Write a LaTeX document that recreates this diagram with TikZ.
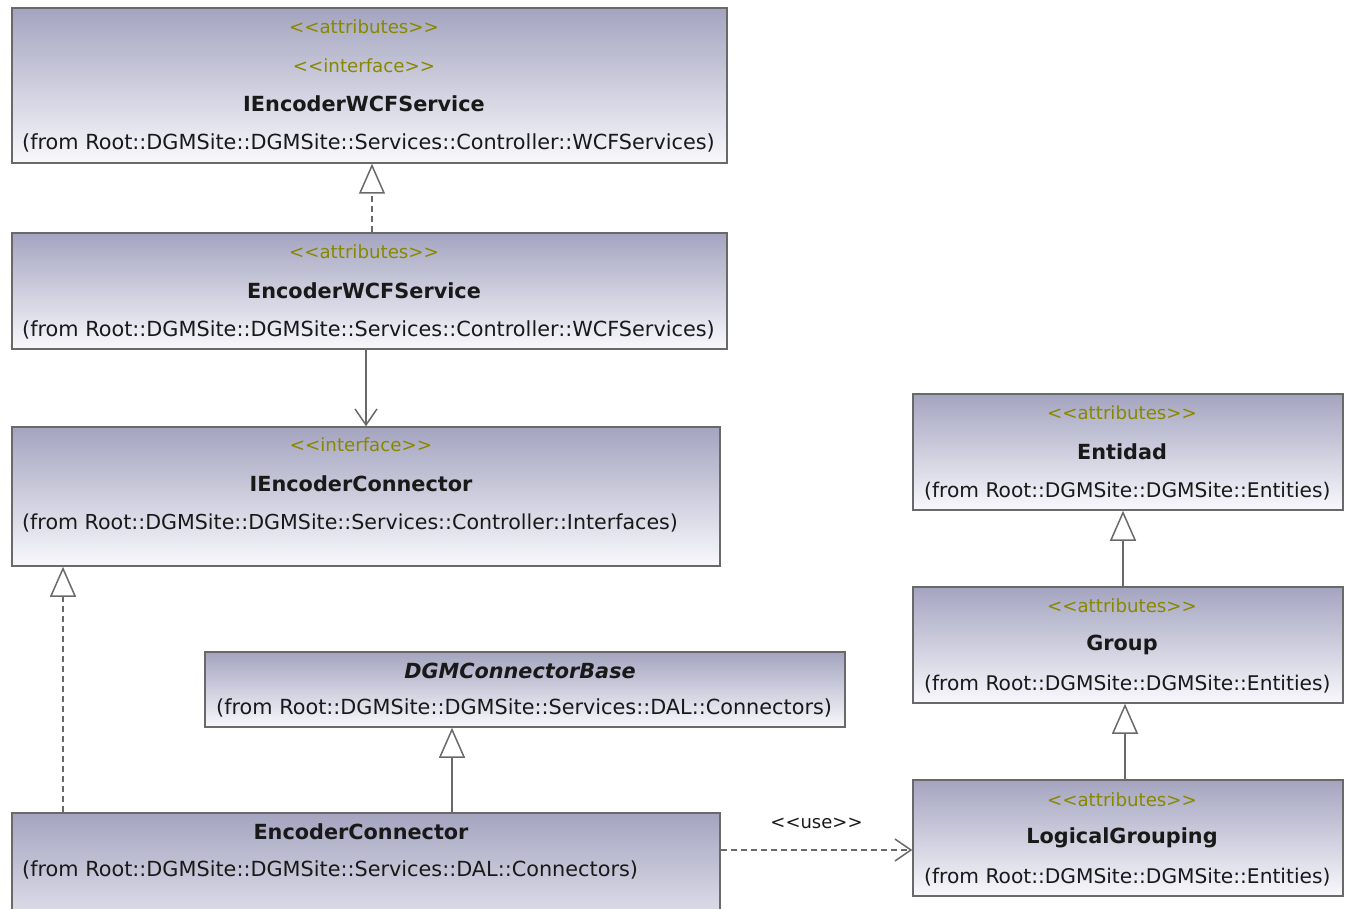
\documentclass[tikz,border=0pt]{standalone}
\usepackage{fontspec}
\setmainfont{DejaVu Sans}
\usetikzlibrary{arrows.meta}
\definecolor{boxtop}{RGB}{164,164,192}
\definecolor{boxbot}{RGB}{248,248,252}
\definecolor{edgec}{RGB}{105,105,105}
\definecolor{stereoc}{RGB}{136,136,0}
\definecolor{txtc}{RGB}{25,25,25}
\newcommand{\stOpen}{<{}<}
\newcommand{\stClose}{>{}>}
\tikzset{
 umlbox/.style={draw=edgec, line width=1.5pt, top color=boxtop, bottom color=boxbot, rectangle, inner sep=0pt},
 stereotxt/.style={text=stereoc, font=\fontsize{18.2}{20}\selectfont, inner sep=0pt},
 nametxt/.style={text=txtc, font=\fontsize{20.8}{22}\selectfont\bfseries, inner sep=0pt},
 fromtxt/.style={text=txtc, font=\fontsize{20.8}{22}\selectfont, inner sep=0pt, anchor=west},
 fromsm/.style={fromtxt, font=\fontsize{20.2}{22}\selectfont},
 gen/.style={draw=edgec, line width=1.5pt, -{Triangle[open, length=30pt, width=26pt]}},
 real/.style={gen, dash pattern=on 6pt off 4pt},
 assoc/.style={draw=edgec, line width=1.5pt, -{Straight Barb[length=16pt, width=22pt]}},
 dep/.style={assoc, dash pattern=on 6pt off 4pt}
}
\begin{document}
\begin{tikzpicture}[x=1pt, y=-1pt]
\useasboundingbox (0,0) rectangle (1348,909);
\clip (0,0) rectangle (1348,909);
% boxes
\node[umlbox, minimum width=715, minimum height=155] (iwcf) at (369.5,85.5) {};
\node[umlbox, minimum width=715, minimum height=116] (ewcf) at (369.5,291) {};
\node[umlbox, minimum width=708, minimum height=139] (icon) at (366,496.5) {};
\node[umlbox, minimum width=640, minimum height=75] (base) at (525,689.5) {};
\node[umlbox, minimum width=708, minimum height=150] (econ) at (366,888) {};
\node[umlbox, minimum width=430, minimum height=116] (ent) at (1128,452) {};
\node[umlbox, minimum width=430, minimum height=116] (grp) at (1128,645) {};
\node[umlbox, minimum width=430, minimum height=116] (lg) at (1128,838) {};
% texts
\node[stereotxt] (iwcf-s1) at (364,27) {\stOpen attributes\stClose};
\node[stereotxt] (iwcf-s2) at (364,66) {\stOpen interface\stClose};
\node[nametxt] (iwcf-n) at (364,104) {IEncoderWCFService};
\node[fromtxt] (iwcf-f) at (22,143) {(from Root::DGMSite::DGMSite::Services::Controller::WCFServices)};
\node[stereotxt] (ewcf-s1) at (364,252) {\stOpen attributes\stClose};
\node[nametxt] (ewcf-n) at (364,291) {EncoderWCFService};
\node[fromtxt] (ewcf-f) at (22,330) {(from Root::DGMSite::DGMSite::Services::Controller::WCFServices)};
\node[stereotxt] (icon-s2) at (361,445) {\stOpen interface\stClose};
\node[nametxt] (icon-n) at (361,484) {IEncoderConnector};
\node[fromtxt, font=\fontsize{20.6}{22}\selectfont] (icon-f) at (22,523) {(from Root::DGMSite::DGMSite::Services::Controller::Interfaces)};
\node[nametxt, font=\fontsize{20.8}{22}\selectfont\bfseries\itshape] (base-n) at (520,671) {DGMConnectorBase};
\node[fromtxt] (base-f) at (216,708) {(from Root::DGMSite::DGMSite::Services::DAL::Connectors)};
\node[nametxt] (econ-n) at (361,832) {EncoderConnector};
\node[fromtxt] (econ-f) at (22,870) {(from Root::DGMSite::DGMSite::Services::DAL::Connectors)};
\node[stereotxt] (ent-s1) at (1122,413) {\stOpen attributes\stClose};
\node[nametxt] (ent-n) at (1122,452) {Entidad};
\node[fromsm] (ent-f) at (924,491) {(from Root::DGMSite::DGMSite::Entities)};
\node[stereotxt] (grp-s1) at (1122,606) {\stOpen attributes\stClose};
\node[nametxt] (grp-n) at (1122,645) {Group};
\node[fromsm] (grp-f) at (924,684) {(from Root::DGMSite::DGMSite::Entities)};
\node[stereotxt] (lg-s1) at (1122,800) {\stOpen attributes\stClose};
\node[nametxt] (lg-n) at (1122,838) {LogicalGrouping};
\node[fromsm] (lg-f) at (924,877) {(from Root::DGMSite::DGMSite::Entities)};
% connector x positions
\coordinate (xa) at (372,0);
\coordinate (xb) at (366,0);
\coordinate (xc) at (63,0);
\coordinate (xd) at (452,0);
\coordinate (xe) at (1123,0);
\coordinate (xf) at (1125,0);
\coordinate (ya) at (0,850);
% connectors
\draw[real] (ewcf.north -| xa) -- (iwcf.south -| xa);
\draw[assoc] (ewcf.south -| xb) -- (icon.north -| xb);
\draw[real] (econ.north -| xc) -- (icon.south -| xc);
\draw[gen] (econ.north -| xd) -- (base.south -| xd);
\draw[gen] (grp.north -| xe) -- (ent.south -| xe);
\draw[gen] (lg.north -| xf) -- (grp.south -| xf);
\draw[dep] (econ.east |- ya) -- node[above=21pt, text=txtc, font=\fontsize{18}{20}\selectfont, inner sep=0pt, pos=0.5] (uselbl) {\stOpen use\stClose} (lg.west |- ya);
\end{tikzpicture}
\end{document}
